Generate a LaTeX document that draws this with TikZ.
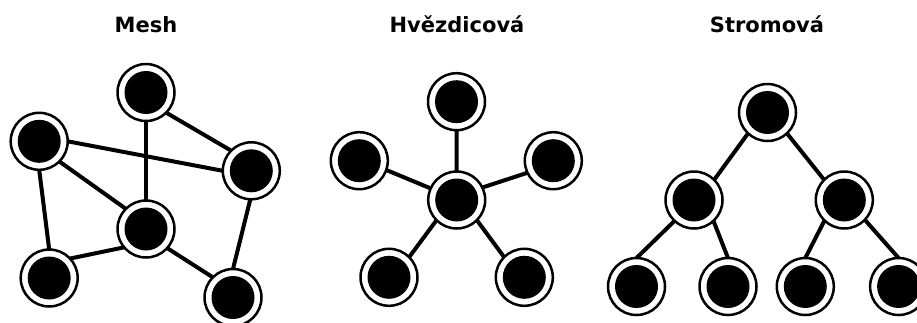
\documentclass[tikz,border=0pt]{standalone}
\usepackage{fontspec}
\setmainfont{DejaVu Sans}
\usetikzlibrary{backgrounds}
\begin{document}
\begin{tikzpicture}[x=1pt,y=-1pt,
  station/.style={circle, draw=black, line width=2.5pt, fill=white,
    minimum size=57pt, inner sep=0pt, outer sep=0pt,
    path picture={\fill[black] (path picture bounding box.center) circle (21.5pt);}},
  link/.style={line width=4pt, black},
  heading/.style={anchor=base, font=\bfseries\fontsize{21}{24}\selectfont}]
\useasboundingbox (0,0) rectangle (917,322);

% Titles
\node[heading] (t1) at (146,32) {Mesh};
\node[heading] (t2) at (457,32) {Hvězdicová};
\node[heading] (t3) at (767,32) {Stromová};

% Mesh topology
\node[station] (m1) at (146,92.5) {};
\node[station] (m2) at (39.2,141.3) {};
\node[station] (m3) at (251.3,170.8) {};
\node[station] (m4) at (146,229) {};
\node[station] (m5) at (49.2,278) {};
\node[station] (m6) at (233,297.5) {};

% Star topology
\node[station] (s0) at (456.7,200) {};
\node[station] (s1) at (456.5,101.7) {};
\node[station] (s2) at (359.3,160.7) {};
\node[station] (s3) at (553.3,160.7) {};
\node[station] (s4) at (389,277.3) {};
\node[station] (s5) at (524.3,277.3) {};

% Tree topology
\node[station] (r0) at (767.5,112.5) {};
\node[station] (r1) at (694,200) {};
\node[station] (r2) at (844.3,200) {};
\node[station] (r3) at (636.5,286.5) {};
\node[station] (r4) at (728,286.5) {};
\node[station] (r5) at (805.3,286.5) {};
\node[station] (r6) at (898.6,286.5) {};

% Links, drawn beneath the stations
\begin{scope}[on background layer]
  \draw[link] (m1.315) -- (m3.135);
  \draw[link] (m1.270) -- (m4.90);
  \draw[link] (m2.0)   -- (m3.180);
  \draw[link] (m2.315) -- (m4.135);
  \draw[link] (m2.270) -- (m5.90);
  \draw[link] (m4.220) -- (m5.43);
  \draw[link] (m4.318) -- (m6.135);
  \draw[link] (m3.268) -- (m6.90);

  \draw[link] (s0.90)  -- (s1.270);
  \draw[link] (s0.156) -- (s2.341);
  \draw[link] (s0.26)  -- (s3.205);
  \draw[link] (s0.225) -- (s4.45);
  \draw[link] (s0.315) -- (s5.135);

  \draw[link] (r0.227) -- (r1.45);
  \draw[link] (r0.313) -- (r2.135);
  \draw[link] (r1.227) -- (r3.90);
  \draw[link] (r1.313) -- (r4.90);
  \draw[link] (r2.226) -- (r5.90);
  \draw[link] (r2.316) -- (r6.90);
\end{scope}
\end{tikzpicture}
\end{document}
